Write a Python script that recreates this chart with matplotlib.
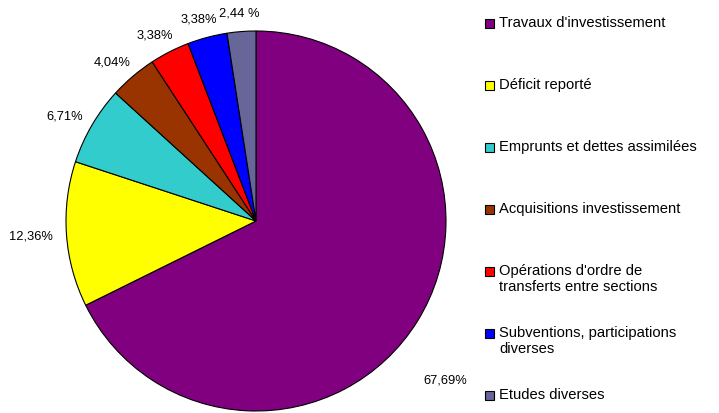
import matplotlib.pyplot as plt
from matplotlib.patches import Rectangle
import numpy as np

plt.rcParams['font.family'] = ['Liberation Sans', 'DejaVu Sans']

categories = ["Travaux d'investissement", "Déficit reporté", "Emprunts et dettes assimilées",
              "Acquisitions investissement", "Opérations d'ordre de\ntransferts entre sections",
              "Subventions, participations\ndiverses", "Etudes diverses"]
values = [67.69, 12.36, 6.71, 4.04, 3.38, 3.38, 2.44]
pct_labels = ["67,69%", "12,36%", "6,71%", "4,04%", "3,38%", "3,38%", "2,44 %"]
colors = ["#800080", "#FFFF00", "#33CCCC", "#993300", "#FF0000", "#0000FF", "#666699"]

W, H = 719, 414
fig = plt.figure(figsize=(W / 100, H / 100), dpi=100)

# pie centred at (256, 222) px, radius 190 px
cx, cy, r = 256, 222, 190
ax = fig.add_axes([(cx - r) / W, (H - cy - r) / H, 2 * r / W, 2 * r / H])
wedges, _ = ax.pie(values, colors=colors, startangle=90, counterclock=False,
                   wedgeprops=dict(edgecolor='black', linewidth=0.8))
ax.set_xlim(-1, 1)
ax.set_ylim(-1, 1)

# labels placed just outside the rim, box pushed outward like Excel does
texts = [ax.text(0, 0, lab, fontsize=9.3, ha='center', va='center') for lab in pct_labels]
fig.canvas.draw()
renderer = fig.canvas.get_renderer()
for w, t in zip(wedges, texts):
    mid = np.deg2rad((w.theta1 + w.theta2) / 2)
    bb = t.get_window_extent(renderer)
    hw, hh = bb.width / 2 / r, bb.height / 2 / r
    c, s = np.cos(mid), np.sin(mid)
    t.set_position((1.07 * c + hw * c, 1.07 * s + hh * s))

# big slice label sits further out, near the bottom right
ang = np.deg2rad(-40)
texts[0].set_position((1.3 * np.cos(ang), 1.3 * np.sin(ang)))

# legend drawn by hand to keep Excel-like spacing
for i, (lab, col) in enumerate(zip(categories, colors)):
    y = 24 + i * 62
    fig.patches.append(Rectangle((485 / W, (H - y - 4.5) / H), 9 / W, 9 / H,
                                 facecolor=col, edgecolor='black', linewidth=0.8,
                                 transform=fig.transFigure, figure=fig))
    fig.text(499 / W, (H - y + 8) / H, lab, fontsize=10.6, va='top', ha='left',
             linespacing=1.15)

fig.savefig('out.png', dpi=100)
